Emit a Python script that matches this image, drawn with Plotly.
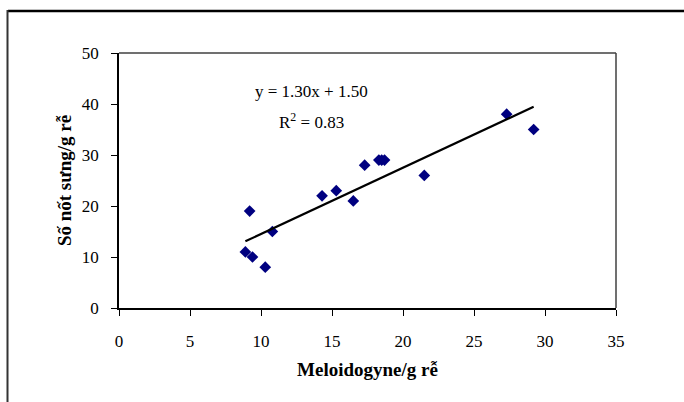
import plotly.graph_objects as go

# Data
meloidogyne = [8.9, 9.2, 9.4, 10.3, 10.8, 14.3, 15.3, 16.5, 17.3, 18.3, 18.5, 18.7, 21.5, 27.3, 29.2]
nodules = [11, 19, 10, 8, 15, 22, 23, 21, 28, 29, 29, 29, 26, 38, 35]
slope = 1.30
intercept = 1.50
r_squared = 0.83
x_ticks = [0, 5, 10, 15, 20, 25, 30, 35]
y_ticks = [0, 10, 20, 30, 40, 50]

W, H = 684, 402
L, R, T, B = 119, 68, 53, 94
pw, ph = W - L - R, H - T - B

def px_to_paper_x(px):
    return (px - L) / pw

def px_to_paper_y(py):
    return (H - B - py) / ph

FONT = "Liberation Serif, Times New Roman, serif"

fig = go.Figure()
fig.add_trace(go.Scatter(
    x=meloidogyne, y=nodules, mode="markers",
    marker=dict(symbol="diamond", size=9, color="#000080"),
    showlegend=False, hoverinfo="x+y",
))
x_line = [min(meloidogyne), max(meloidogyne)]
y_line = [slope * v + intercept for v in x_line]
fig.add_trace(go.Scatter(
    x=x_line, y=y_line, mode="lines",
    line=dict(color="black", width=2.2),
    showlegend=False, hoverinfo="skip",
))

fig.add_annotation(
    x=px_to_paper_x(311), y=px_to_paper_y(91), xref="paper", yref="paper",
    xanchor="center", yanchor="middle",
    text=f"y = {slope:.2f}x + {intercept:.2f}", showarrow=False,
    font=dict(family=FONT, size=17, color="black"),
)
fig.add_annotation(
    x=px_to_paper_x(311), y=px_to_paper_y(121), xref="paper", yref="paper",
    xanchor="center", yanchor="middle",
    text=f"R<sup>2</sup> = {r_squared:.2f}", showarrow=False,
    font=dict(family=FONT, size=17, color="black"),
)

# outer chart frame (top and left edges visible)
fig.add_shape(type="line", xref="paper", yref="paper",
              x0=px_to_paper_x(8), x1=px_to_paper_x(700),
              y0=px_to_paper_y(11), y1=px_to_paper_y(11),
              line=dict(color="black", width=2.5))
fig.add_shape(type="line", xref="paper", yref="paper",
              x0=px_to_paper_x(7.5), x1=px_to_paper_x(7.5),
              y0=px_to_paper_y(10), y1=px_to_paper_y(420),
              line=dict(color="#333333", width=2))
# plot-area top and right border
fig.add_shape(type="line", xref="paper", yref="paper",
              x0=0, x1=1, y0=1, y1=1, line=dict(color="#404040", width=1.5))
fig.add_shape(type="line", xref="paper", yref="paper",
              x0=1, x1=1, y0=0, y1=1, line=dict(color="#404040", width=1.5))

fig.update_xaxes(
    range=[0, 35], tickvals=x_ticks, ticktext=[str(v) for v in x_ticks],
    showgrid=False, zeroline=False, showline=True, linecolor="black", linewidth=1.5,
    ticks="outside", ticklen=6, tickcolor="black", tickwidth=1.2,
    ticklabelstandoff=11,
    tickfont=dict(family=FONT, size=17, color="black"),
    title=dict(text="<b>Meloidogyne/g rễ</b>", font=dict(family=FONT, size=19, color="black"), standoff=13),
)
fig.update_yaxes(
    range=[0, 50], tickvals=y_ticks, ticktext=[str(v) for v in y_ticks],
    showgrid=False, zeroline=False, showline=True, linecolor="black", linewidth=1.5,
    ticks="outside", ticklen=6, tickcolor="black", tickwidth=1.2,
    ticklabelstandoff=9,
    tickfont=dict(family=FONT, size=17, color="black"),
    title=dict(text="<b>Số nốt sưng/g rễ</b>", font=dict(family=FONT, size=19, color="black"), standoff=5),
)

fig.update_layout(
    width=W, height=H,
    margin=dict(l=L, r=R, t=T, b=B),
    paper_bgcolor="white", plot_bgcolor="white",
)

fig.write_html("out.html")
